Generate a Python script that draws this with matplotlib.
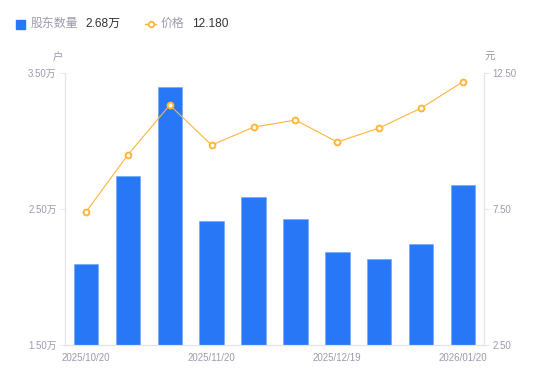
import numpy as np
import matplotlib.pyplot as plt
from matplotlib.lines import Line2D

plt.rcParams['font.family'] = ['Liberation Sans', 'Noto Sans CJK SC']

# data
dates = ['2025/10/20', '2025/10/31', '2025/11/10', '2025/11/20', '2025/11/28',
         '2025/12/10', '2025/12/19', '2025/12/31', '2026/01/09', '2026/01/20']
holders = [2.096, 2.743, 3.397, 2.412, 2.588, 2.426, 2.184, 2.132, 2.243, 2.68]
price = [7.39, 9.49, 11.32, 9.85, 10.51, 10.77, 9.96, 10.48, 11.21, 12.18]
left_ticks = [1.5, 2.5, 3.5]
right_ticks = [2.5, 7.5, 12.5]

blue = '#2777f6'
orange = '#ffb43c'
gray = '#9b9bab'
axis_col = '#e3e3e8'

fig = plt.figure(figsize=(5.5, 3.81), dpi=100)
ax = fig.add_axes([65/550, 36/381, 419/550, 272/381])
ax2 = ax.twinx()

x = np.arange(len(dates))
ax.bar(x, holders, width=0.58, color=blue, edgecolor='#6fa3f8', linewidth=0.4)
ax.set_ylim(1.5, 3.5)
ax.set_xlim(-0.5, len(dates) - 0.5)
ax.set_yticks(left_ticks)
ax.set_yticklabels(['%.2f万' % v for v in left_ticks])
ax.set_xticks(x[::3])
ax.set_xticklabels(dates[::3])

ax2.plot(x, price, color=orange, linewidth=0.8, marker='o', markersize=4.2,
         markerfacecolor='white', markeredgecolor=orange, markeredgewidth=1.4)
ax2.set_ylim(2.5, 12.5)
ax2.set_yticks(right_ticks)
ax2.set_yticklabels(['%.2f' % v for v in right_ticks])

for a in (ax, ax2):
    for s in a.spines.values():
        s.set_color(axis_col)
        s.set_linewidth(0.8)
    a.spines['top'].set_visible(False)
    a.tick_params(colors=gray, labelsize=7, length=3.5, width=0.6, color=axis_col, pad=2.5)
ax.tick_params(axis='x', length=0, pad=6)
ax.set_zorder(ax2.get_zorder() - 1)
ax2.patch.set_visible(False)

# unit labels
fig.text(58/550, 1 - 57/381, '户', color=gray, fontsize=7.5, ha='center', va='center')
fig.text(490/550, 1 - 57/381, '元', color=gray, fontsize=7.5, ha='center', va='center')

# legend row
ly = 1 - 24/381
fig.patches.append(plt.Rectangle((16/550, 1 - 29/381), 9/550, 9/381,
                                 transform=fig.transFigure, color=blue, figure=fig))
fig.text(31/550, ly, '股东数量', color=gray, fontsize=8.6, va='center')
fig.text(85/550, ly, '2.68万', color='#333333', fontsize=8.6, va='center')
fig.lines.append(Line2D([145/550, 156/550], [ly, ly], transform=fig.transFigure,
                        color=orange, linewidth=1))
fig.lines.append(Line2D([150.5/550], [ly], transform=fig.transFigure, color=orange,
                        marker='o', markersize=4, markerfacecolor='white', markeredgewidth=1.3))
fig.text(161/550, ly, '价格', color=gray, fontsize=8.6, va='center')
fig.text(192/550, ly, '12.180', color='#333333', fontsize=8.6, va='center')

fig.savefig('out.png', dpi=100)
